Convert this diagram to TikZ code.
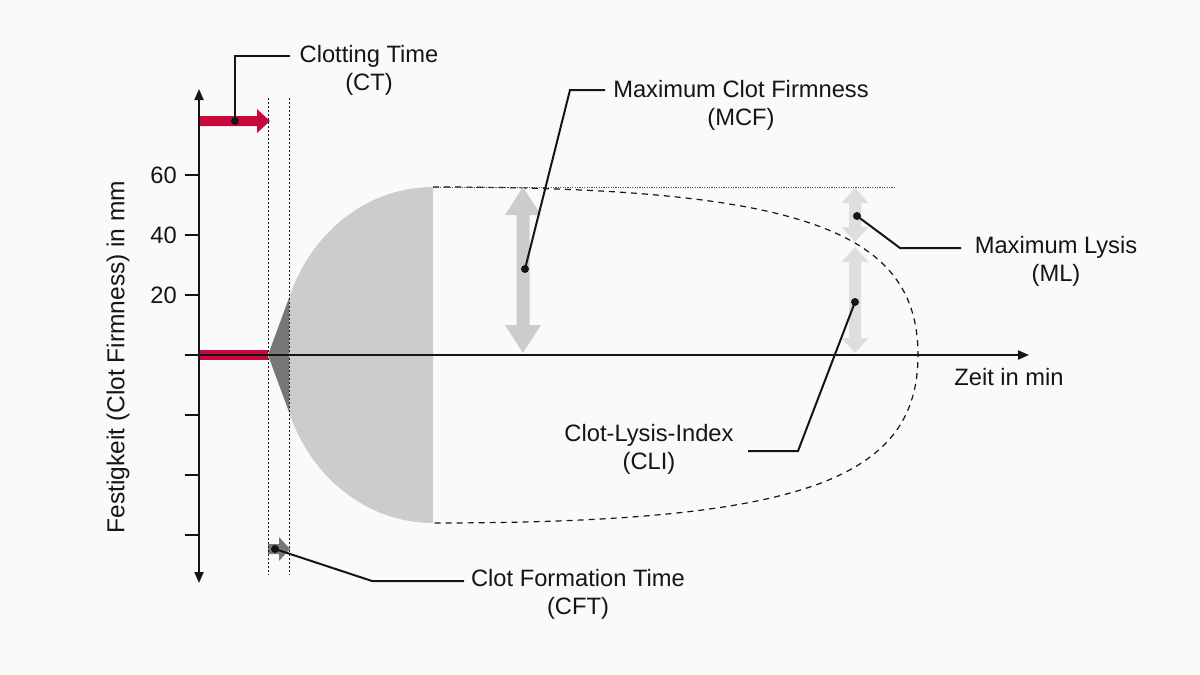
\documentclass[tikz,border=0pt]{standalone}
\usepackage{fontspec}
\setmainfont{Liberation Sans}
\usetikzlibrary{arrows.meta}
\definecolor{bg}{HTML}{FAFAFA}
\definecolor{ctred}{HTML}{C8083C}
\definecolor{lgray}{HTML}{CCCCCC}
\definecolor{llgray}{HTML}{DEDEDE}
\definecolor{dgray}{HTML}{777777}
\definecolor{ink}{HTML}{151515}
% x, ytop, ybot, half shaft, half head, head length, colour
\newcommand\vdblarrow[7]{%
  \fill[#7] (#1,#2) -- (#1+#5,#2+#6) -- (#1+#4,#2+#6) -- (#1+#4,#3-#6) -- (#1+#5,#3-#6)
    -- (#1,#3) -- (#1-#5,#3-#6) -- (#1-#4,#3-#6) -- (#1-#4,#2+#6) -- (#1-#5,#2+#6) -- cycle;}
\begin{document}
\begin{tikzpicture}[x=1pt,y=-1pt,
  lbl/.style={font=\fontsize{23.7}{28}\selectfont, align=center, inner sep=0pt, text=ink},
  callout/.style={line width=2pt, draw=ink},
  dotc/.style={fill=ink},
  axisline/.style={line width=2pt, draw=ink},
  tip/.style={-{Triangle[length=11pt,width=9pt]}},
  guide/.style={line width=0.9pt, draw=ink, dash pattern=on 2pt off 2pt},
  envelope/.style={line width=1.2pt, draw=ink, dash pattern=on 6pt off 5pt}]
\fill[bg] (0,0) rectangle (1200,675);
\useasboundingbox (0,0) rectangle (1200,675);

% clot shape
\begin{scope}
  \clip (289,0) rectangle (433,675);
  \fill[lgray] (433,355) ellipse [x radius=153, y radius=168];
\end{scope}
\fill[dgray] (268,355) -- (289,298) -- (289,412) -- cycle;

% lysis envelope
\draw[envelope] (433,187) .. controls (800,187) and (918,230) .. (918,355)
  .. controls (918,480) and (800,523) .. (433,523);
\draw[line width=0.9pt, draw=ink!75, dash pattern=on 1.2pt off 1.2pt] (433,187) -- (895,187);

% measurement arrows
\vdblarrow{523}{187}{353}{6.5}{18}{28}{lgray}
\vdblarrow{855}{188}{242}{6}{13.5}{15}{llgray}
\vdblarrow{855}{247}{353}{6}{13.5}{15}{llgray}

% red CT bar & arrow
\fill[ctred] (199,350) rectangle (268,360);
\fill[ctred] (199,116) -- (257,116) -- (257,109) -- (270,121) -- (257,133) -- (257,126) -- (199,126) -- cycle;
% CFT small arrow
\fill[dgray] (268,544) -- (279,544) -- (279,537) -- (290,549) -- (279,561) -- (279,554) -- (268,554) -- cycle;

% guides
\draw[guide] (268,98) -- (268,575);
\draw[guide] (289,98) -- (289,575);

% axes
\coordinate (ybot) at (199,583);
\coordinate (ytop) at (199,89);
\coordinate (xl) at (185,355);
\coordinate (xr) at (1029,355);
\draw[axisline, {Triangle[length=11pt,width=9pt]}-{Triangle[length=11pt,width=9pt]}] (ybot) -- (ytop);
\draw[axisline, tip] (xl) -- (xr);
\foreach \yy in {175,235,295,415,475,535} {
  \draw[axisline] (185,\yy) -- (199,\yy);
}
\node[lbl, anchor=east] (l60) at (177,175) {60};
\node[lbl, anchor=east] (l40) at (177,235) {40};
\node[lbl, anchor=east] (l20) at (177,295) {20};
\node[lbl, rotate=90, font=\fontsize{24.5}{28}\selectfont] (ylab) at (118,357) {Festigkeit (Clot Firmness) in mm};
\node[lbl] (xlab) at (1009,377) {Zeit in min};

% labels
\node[lbl] (ct) at (369,70) {Clotting Time\\(CT)};
\node[lbl] (mcf) at (741,105) {Maximum Clot Firmness\\(MCF)};
\node[lbl] (ml) at (1056,261) {Maximum Lysis\\(ML)};
\node[lbl] (cli) at (649,449) {Clot-Lysis-Index\\(CLI)};
\node[lbl] (cft) at (578,594) {Clot Formation Time\\(CFT)};

% callouts
\coordinate (ctdot) at (235,121);  \coordinate (ctend) at (290,56);
\coordinate (mcfdot) at (525,269); \coordinate (mcfbend) at (570,90); \coordinate (mcfend) at (605,90);
\coordinate (mldot) at (857,216);  \coordinate (mlbend) at (900,248); \coordinate (mlend) at (961,248);
\coordinate (clidot) at (855,302); \coordinate (clibend) at (798,451); \coordinate (cliend) at (748,451);
\coordinate (cftdot) at (275,549); \coordinate (cftbend) at (372,581); \coordinate (cftend) at (464,581);

\draw[callout] (ctdot) |- (ctend);
\draw[callout] (mcfdot) -- (mcfbend) -- (mcfend);
\draw[callout] (mldot) -- (mlbend) -- (mlend);
\draw[callout] (clidot) -- (clibend) -- (cliend);
\draw[callout] (cftdot) -- (cftbend) -- (cftend);
\foreach \d in {ctdot,mcfdot,mldot,clidot,cftdot} {
  \fill[dotc] (\d) circle [radius=4];
}
\end{tikzpicture}
\end{document}
